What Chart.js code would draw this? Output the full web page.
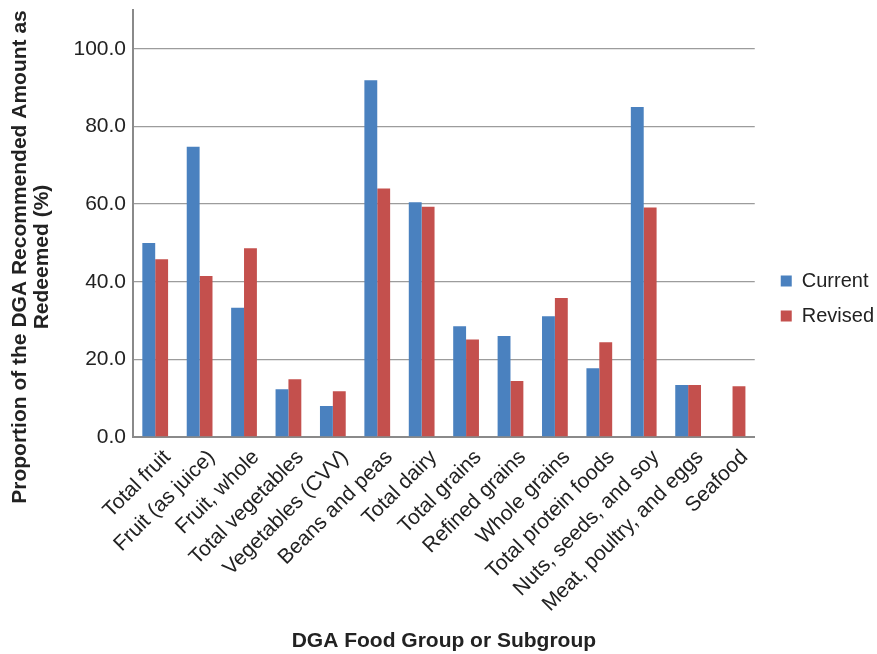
<!DOCTYPE html>
<html>
<head>
<meta charset="utf-8">
<script src="https://cdn.jsdelivr.net/npm/chart.js@4/dist/chart.umd.min.js"></script>
<style>
  html, body { margin: 0; padding: 0; background: #ffffff; }
  #wrap { width: 877px; height: 654px; }
</style>
</head>
<body>
<div id="wrap"><canvas id="chart" width="877" height="654"></canvas></div>
<script>
// DGA food groups and subgroups along the x axis
const categories = [
  'Total fruit', 'Fruit (as juice)', 'Fruit, whole', 'Total vegetables',
  'Vegetables (CVV)', 'Beans and peas', 'Total dairy', 'Total grains',
  'Refined grains', 'Whole grains', 'Total protein foods',
  'Nuts, seeds, and soy', 'Meat, poultry, and eggs', 'Seafood'
];

// Proportion of the recommended amount redeemed (%); no current value for seafood
const currentValues = [50.0, 74.8, 33.3, 12.3, 8.0, 91.9, 60.5, 28.5, 26.0, 31.1, 17.7, 85.0, 13.4, null];
const revisedValues = [45.8, 41.5, 48.6, 14.9, 11.8, 64.0, 59.3, 25.1, 14.4, 35.8, 24.4, 59.1, 13.4, 13.1];

const seriesNames = ['Current', 'Revised'];
const yTickValues = [0, 20, 40, 60, 80, 100];
const yTitleLines = ['Proportion of the DGA Recommended Amount as', 'Redeemed (%)'];
const xTitle = 'DGA Food Group or Subgroup';

const FONT = '"Liberation Sans", Arial, Helvetica, sans-serif';
const TEXT = '#222222';

// Two-line rotated title beside the y axis
const yTitlePlugin = {
  id: 'yTitle',
  afterDraw(chart) {
    const ctx = chart.ctx;
    ctx.save();
    ctx.fillStyle = TEXT;
    ctx.font = 'bold 21px ' + FONT;
    ctx.textAlign = 'center';
    ctx.textBaseline = 'middle';
    const cy = 257;
    const xs = [20, 42];
    yTitleLines.forEach((line, i) => {
      ctx.save();
      ctx.translate(xs[i], cy);
      ctx.rotate(-Math.PI / 2);
      ctx.fillText(line, 0, 0);
      ctx.restore();
    });
    ctx.restore();
  }
};

new Chart(document.getElementById('chart'), {
  type: 'bar',
  data: {
    labels: categories,
    datasets: [
      { label: seriesNames[0], data: currentValues, backgroundColor: '#4A81BF', borderWidth: 0 },
      { label: seriesNames[1], data: revisedValues, backgroundColor: '#C4504D', borderWidth: 0 }
    ]
  },
  options: {
    responsive: false,
    animation: false,
    devicePixelRatio: 1,
    categoryPercentage: 0.58,
    barPercentage: 1.0,
    layout: { padding: { top: 10, left: 0, right: -7, bottom: 0 } },
    plugins: {
      tooltip: { enabled: false },
      legend: {
        position: 'right',
        align: 'start',
        title: { display: true, text: ' ', font: { size: 10 }, padding: { top: 0, bottom: 234 } },
        labels: {
          boxWidth: 11,
          boxHeight: 11,
          padding: 15,
          color: TEXT,
          font: { family: FONT, size: 20 }
        }
      }
    },
    scales: {
      x: {
        grid: { display: false, drawTicks: false },
        border: { display: true, color: '#8a8a8a', width: 2 },
        ticks: {
          color: TEXT,
          font: { family: FONT, size: 21 },
          minRotation: 45,
          maxRotation: 45,
          autoSkip: false,
          padding: 8,
          labelOffset: 12
        },
        title: {
          display: true,
          text: xTitle,
          color: TEXT,
          font: { family: FONT, size: 21, weight: 'bold' },
          padding: { top: 0, bottom: 0 }
        },
        afterFit(s) { s.height = 217; }
      },
      y: {
        min: 0,
        max: 110,
        ticks: {
          stepSize: 20,
          color: TEXT,
          font: { family: FONT, size: 21 },
          padding: 7,
          callback: v => Number(v).toFixed(1)
        },
        afterBuildTicks(s) { s.ticks = s.ticks.filter(t => yTickValues.includes(t.value)); },
        grid: { color: '#9c9c9c', lineWidth: 1.3, drawTicks: false },
        border: { display: true, color: '#8a8a8a', width: 2 },
        afterFit(s) { s.width = 133; s.paddingTop = 0; s.paddingBottom = 0; }
      },
      gap: {
        type: 'linear',
        position: 'right',
        display: true,
        grid: { display: false, drawTicks: false },
        border: { display: false },
        ticks: { display: false },
        afterFit(s) { s.width = 11; s.paddingTop = 0; s.paddingBottom = 0; }
      }
    }
  },
  plugins: [yTitlePlugin]
});
</script>
</body>
</html>
